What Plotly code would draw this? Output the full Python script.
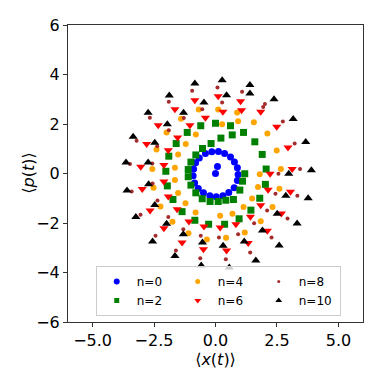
import plotly.graph_objects as go

# expectation values <x(t)>, <p(t)> sampled for each initial level n
x_n0 = [0.0, 0.08, -0.41, -0.15, 0.12, 0.37, 0.61, 0.77, 0.89, 0.92, 0.89, 0.76, 0.54, 0.30,
        0.03, -0.23, -0.49, -0.70, -0.85, -0.91, -0.89, -0.81, -0.66]
p_n0 = [0.0, 0.28, 0.81, 0.88, 0.89, 0.81, 0.67, 0.46, 0.23, -0.04, -0.28, -0.58, -0.77, -0.90,
        -0.94, -0.90, -0.78, -0.61, -0.38, -0.09, 0.18, 0.43, 0.63]

x_n2 = [0.0, 0.61, -0.60, -1.15, 1.14, 0.22, 0.68, -0.18, -1.60, 1.60, -0.53, -1.90, 1.90,
        -0.80, -1.00, -2.02, 2.06, -1.11, 1.19, -1.11, -1.96, 2.03, -1.00, 1.10, -0.80, 0.99,
        -1.73, 1.80, -0.54, 0.73, -0.22, 0.11, 0.42, -1.36, 1.44, -0.84, 0.96, -0.28, 0.37]
p_n2 = [2.03, 1.93, 1.93, 1.66, 1.66, 1.43, 1.56, 1.21, 1.21, 1.28, 1.01, 0.70, 0.77,
        0.75, 0.46, 0.09, 0.18, 0.16, -0.01, -0.13, -0.50, -0.44, -0.47, -0.31, -0.78, -0.67,
        -1.05, -1.00, -1.02, -1.05, -1.13, -1.13, -1.08, -1.54, -1.48, -1.89, -1.83, -2.05, -2.05]

x_n4 = [-0.68, 0.11, 0.88, 1.56, 2.11, 2.49, 2.66, 2.60, 2.32, 1.84, 1.19, 0.43, -0.35, -1.10,
        -1.75, -2.24, -2.52, -2.57, -2.40, -1.99, -1.40,
        0.27, 0.92, -0.80, -1.21, -1.52, -1.65, -1.65, -1.52, -1.22, -0.81, 0.19, 0.69, 1.14,
        1.49, 1.73, 1.80]
p_n4 = [2.59, 2.59, 2.46, 2.07, 1.62, 0.93, 0.18, -0.62, -1.35, -1.93, -2.38, -2.60, -2.67, -2.41,
        -1.95, -1.33, -0.58, 0.18, 0.97, 1.66, 2.21,
        1.99, 2.11, 1.58, 1.19, 0.77, 0.23, -0.26, -0.79, -1.20, -1.58, -1.71, -1.63, -1.35,
        -1.01, -0.55, -0.03]

x_n6 = [3.12, 3.05, 2.68, 2.11, 1.33, 0.45, -0.49, -1.36, -2.10, -2.66, -2.98, -3.04, -2.80,
        -2.33, -1.65, -0.84, 0.11, 1.02, 1.84, 2.49, 2.95,
        0.30, 1.06, 2.22, 2.14, 1.84, 1.42, 0.83, 0.19, -0.47, -1.08, -1.56, -1.92, -2.10,
        -2.10, -1.92, -1.54, -1.04, -0.41]
p_n6 = [0.18, -0.74, -1.62, -2.31, -2.81, -3.11, -3.06, -2.79, -2.21, -1.49, -0.63, 0.27, 1.19,
        1.95, 2.60, 2.96, 3.12, 2.92, 2.49, 1.89, 1.05,
        2.49, 2.56, -0.01, -0.66, -1.28, -1.75, -2.05, -2.18, -2.14, -1.94, -1.44, -0.93, -0.32,
        0.34, 0.94, 1.45, 1.95, 2.25]

x_n8 = [-0.95, 0.08, 1.08, 2.01, 2.74, 3.22, 3.44, 3.33, 2.93, 2.28, 1.41, 0.42, -0.62, -1.61,
        -2.44, -3.05, -3.41, -3.48, -3.21, -2.67, -1.90,
        0.27, 1.94, -0.54, -1.29, -1.90, -2.37, -2.57, 2.56, 2.44, 2.10, 1.57, 0.92, 0.14,
        -0.60, -1.31, -1.92, -2.36, -2.56]
p_n8 = [3.34, 3.47, 3.30, 2.81, 2.10, 1.21, 0.18, -0.90, -1.82, -2.59, -3.19, -3.46, -3.42, -3.11,
        -2.52, -1.67, -0.73, 0.38, 1.32, 2.25, 2.90,
        2.87, 2.69, 2.60, 2.24, 1.75, 1.10, 0.40, -0.01, -0.82, -1.49, -2.01, -2.45, -2.59,
        -2.52, -2.25, -1.76, -1.09, -0.40]

x_n10 = [-0.84, 0.27, 1.40, 2.38, 3.16, 3.67, 3.90, 3.77, 3.32, 2.59, 1.64, 0.56, -0.58, -1.65,
         -2.56, -3.24, -3.60, -3.64, -3.35, -2.74, -1.88,
         0.45, 1.40, -0.47, -1.30, -1.96, -2.47, -2.74, -2.72, -2.47, -1.99, -1.31, -0.53, 0.31,
         1.17, 1.91, 2.51, 2.86, 2.98]
p_n10 = [3.64, 3.77, 3.58, 3.00, 2.20, 1.27, 0.13, -1.00, -2.02, -2.91, -3.52, -3.80, -3.72, -3.33,
         -2.75, -1.76, -0.69, 0.44, 1.48, 2.45, 3.15,
         3.16, 3.23, 2.87, 2.45, 1.99, 1.24, 0.44, -0.43, -1.27, -2.03, -2.45, -2.79, -2.92,
         -2.75, -2.30, -1.63, -0.90, -0.01]

series = {
    0: (x_n0, p_n0, "blue", "circle", 7, 6),
    2: (x_n2, p_n2, "green", "square", 7, 5),
    4: (x_n4, p_n4, "orange", "circle", 6, 5),
    6: (x_n6, p_n6, "red", "triangle-down", 8, 6),
    8: (x_n8, p_n8, "brown", "circle", 4, 3),
    10: (x_n10, p_n10, "black", "triangle-up", 8, 6),
}

fig = go.Figure()
for n in [0, 2, 4, 6, 8, 10]:
    xs, ps, color, symbol, size, _ = series[n]
    fig.add_trace(go.Scatter(
        x=xs, y=ps, mode="markers", name=f"n={n}", showlegend=False,
        marker=dict(color=color, symbol=symbol, size=size, line=dict(width=0)),
    ))

# legend-only entries with smaller markers; legend fills row by row,
# so add them in the reference's column order
for n in [0, 4, 8, 2, 6, 10]:
    _, _, color, symbol, _, lsize = series[n]
    fig.add_trace(go.Scatter(
        x=[None], y=[None], mode="markers", name=f"n={n}",
        marker=dict(color=color, symbol=symbol, size=lsize, line=dict(width=0)),
    ))

axis_common = dict(
    showgrid=False, zeroline=False, showline=True, linecolor="#333", linewidth=1,
    mirror=True, ticks="outside", ticklen=4, tickcolor="#333", automargin=False,
    tickfont=dict(size=16, color="black"),
)
# the page body adds an 8px offset, so margins are shifted to compensate
fig.update_layout(
    width=382, height=382,
    margin=dict(l=60, r=27, t=17, b=68),
    plot_bgcolor="white", paper_bgcolor="white",
    font=dict(family="DejaVu Sans", color="black"),
    xaxis=dict(range=[-6, 6], tickvals=[-5, -2.5, 0, 2.5, 5],
               ticktext=["\u22125.0", "\u22122.5", "0.0", "2.5", "5.0"],
               title=dict(text="\u27e8<i>x</i>(<i>t</i>)\u27e9", font=dict(size=16), standoff=1),
               **axis_common),
    yaxis=dict(range=[-6, 6], tickvals=[-6, -4, -2, 0, 2, 4, 6],
               ticktext=["\u22126", "\u22124", "\u22122", "0", "2", "4", "6"],
               **axis_common),
    showlegend=True,
    legend=dict(orientation="h", x=0.094, y=0.02, xanchor="left", yanchor="bottom",
                entrywidth=36, entrywidthmode="pixels",
                bgcolor="rgba(255,255,255,0.8)", bordercolor="#ccc", borderwidth=1,
                font=dict(size=12), itemwidth=30, tracegroupgap=0),
)
fig.add_annotation(
    text="\u27e8<i>p</i>(<i>t</i>)\u27e9", textangle=-90, font=dict(size=16),
    xref="paper", yref="paper", x=-0.135, y=0.5, xanchor="center", yanchor="middle",
    showarrow=False,
)

fig.write_html("out.html")
